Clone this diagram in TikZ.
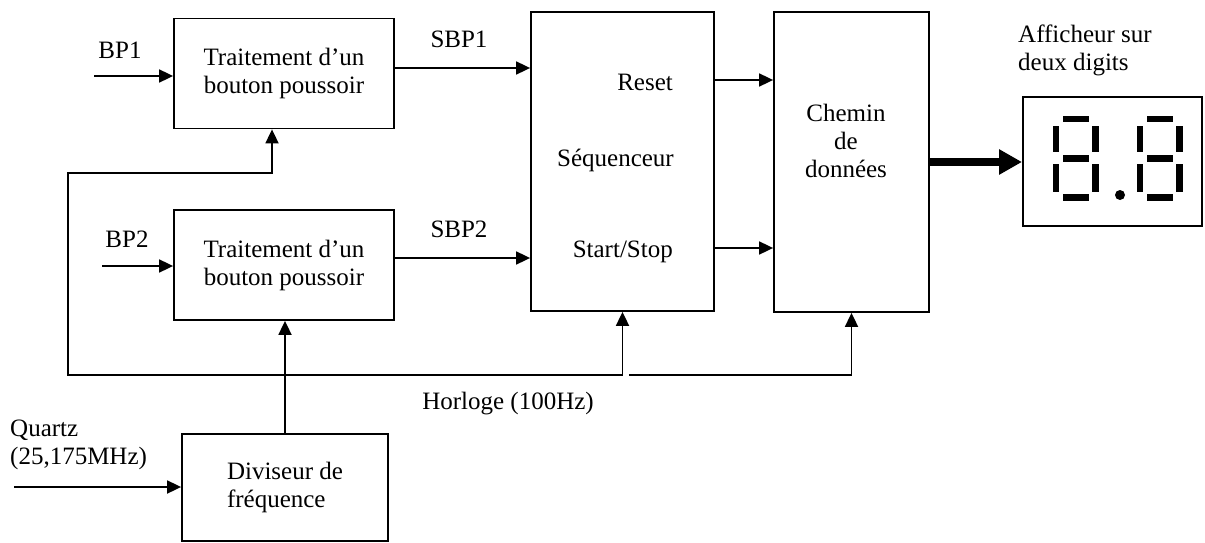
\documentclass[tikz,border=0pt]{standalone}
\usepackage{fontspec}
\setmainfont{Liberation Serif}
\usetikzlibrary{arrows.meta}
\begin{document}
\begin{tikzpicture}[x=1pt,y=-1pt,
  font=\fontsize{25}{28}\selectfont,
  blk/.style={draw, line width=1.8pt, inner sep=0pt, align=center},
  arr/.style={line width=1.8pt, -{Triangle[length=14pt,width=13pt]}},
  dblarr/.style={line width=1.8pt, {Triangle[length=14pt,width=13pt]}-{Triangle[length=14pt,width=13pt]}},
  bigarr/.style={line width=8pt, -{Triangle[length=23pt,width=24pt]}},
  lbl/.style={inner sep=0pt, anchor=base},
  mlbl/.style={inner sep=0pt, align=left, anchor=west}]
\useasboundingbox (0,0) rectangle (1205,543);

% blocks
\node[blk, minimum width=220pt, minimum height=110pt] (t1) at (284,73.5) {Traitement d’un\\bouton poussoir};
\node[blk, minimum width=220pt, minimum height=110pt] (t2) at (284,265) {Traitement d’un\\bouton poussoir};
\node[blk, minimum width=183pt, minimum height=299pt] (seq) at (622.5,161.5) {};
\node[blk, minimum width=155pt, minimum height=300pt] (ch) at (851.5,162) {};
\node[blk, minimum width=179pt, minimum height=129pt, line width=2pt] (disp) at (1112.5,161.5) {};
\node[blk, minimum width=206pt, minimum height=107pt, align=left] (div) at (285,487.5) {Diviseur de\\fréquence};

% texts
\node[lbl] (lbp1) at (120,58.5) {BP1};
\node[lbl] (lbp2) at (127,247.5) {BP2};
\node[lbl] (lsbp1) at (459,48) {SBP1};
\node[lbl] (lsbp2) at (459,237.5) {SBP2};
\node[lbl, anchor=base east] (lreset) at (673,90) {Reset};
\node[lbl, anchor=base east] (lseq) at (674,166) {Séquenceur};
\node[lbl, anchor=base east] (lss) at (673,257) {Start/Stop};
\node[inner sep=0pt, align=center] (lch) at (846,141) {Chemin\\de\\données};
\node[lbl] (lclk) at (508,409) {Horloge (100Hz)};
\node[mlbl] (lq) at (10,445) {Quartz\\(25,175MHz)};
\node[mlbl] (laff) at (1018,50) {Afficheur sur\\deux digits};

% inputs
\coordinate (bp1s) at (94,76);
\draw[arr] (bp1s) -- (bp1s -| t1.west);
\coordinate (bp2s) at (102,266);
\draw[arr] (bp2s) -- (bp2s -| t2.west);
\coordinate (qs) at (14,487);
\draw[arr] (qs) -- (qs -| div.west);

% signals
\coordinate (s1) at (0,68);
\coordinate (s2) at (0,258);
\draw[arr] (t1.east |- s1) -- (seq.west |- s1);
\draw[arr] (t2.east |- s2) -- (seq.west |- s2);
\coordinate (r1) at (0,80);
\coordinate (r2) at (0,248);
\draw[arr] (seq.east |- r1) -- (ch.west |- r1);
\draw[arr] (seq.east |- r2) -- (ch.west |- r2);
\draw[bigarr] (ch.east) -- (ch.east -| disp.west);

% clock
\coordinate (k1) at (68,173);
\coordinate (k2) at (68,375);
\coordinate (k3) at (629,375);
\draw[arr] (div.north) -- (div.north |- t2.south);
\draw[dblarr] ([xshift=-12pt]t1.south) |- (k1) -- (k2) -| (seq.south);
\draw[arr] (k3) -| (ch.south);

% seven-segment digits
\foreach \dx in {0,84} {
  \fill ({1062.7+\dx},115.7) rectangle ({1089.3+\dx},122.3);
  \fill ({1062.7+\dx},155) rectangle ({1089.3+\dx},161.7);
  \fill ({1062.7+\dx},194) rectangle ({1089.3+\dx},200.7);
  \fill ({1052.7+\dx},125.7) rectangle ({1059.3+\dx},152.3);
  \fill ({1052.7+\dx},164.3) rectangle ({1059.3+\dx},191.7);
  \fill ({1092+\dx},125.7) rectangle ({1098.7+\dx},152.3);
  \fill ({1092+\dx},164.3) rectangle ({1098.7+\dx},191.7);
}
\fill (1120,195) circle[radius=5];
\end{tikzpicture}
\end{document}
